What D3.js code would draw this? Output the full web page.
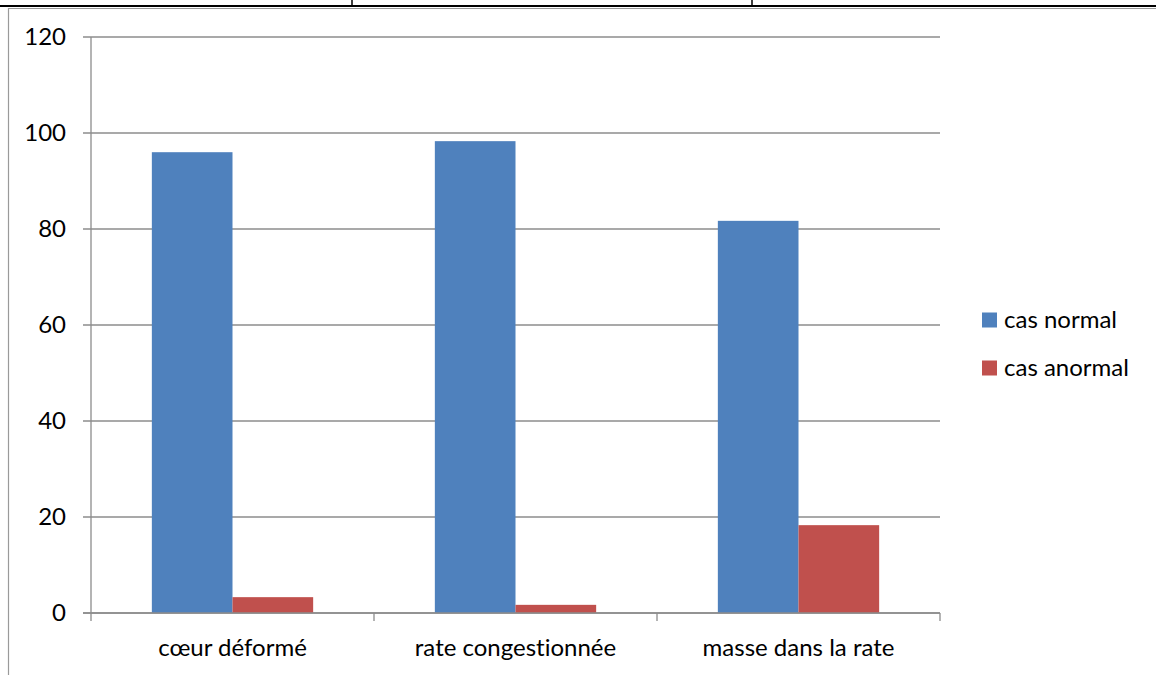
<!DOCTYPE html>
<html>
<head>
<meta charset="utf-8">
<script src="https://cdn.jsdelivr.net/npm/d3@7"></script>
<style>
  body { margin: 0; background: #fff; }
  svg { display: block; }
  text { font-family: Lato, "Open Sans", sans-serif; fill: #000; font-variant-ligatures: none; }
</style>
</head>
<body>
<div id="chart"></div>
<script>
const categories = ["cœur déformé", "rate congestionnée", "masse dans la rate"];
const seriesNames = ["cas normal", "cas anormal"];
const casNormal = [96, 98.3, 81.7];
const casAnormal = [3.3, 1.7, 18.3];
const yTicks = [0, 20, 40, 60, 80, 100, 120];
const colors = ["#4F81BD", "#C0504D"];

const W = 1156, H = 675;
const plot = { left: 91, right: 940, top: 37, bottom: 613 };
const fontSize = "24px";

const svg = d3.select("#chart")
    .append("svg")
    .attr("width", W)
    .attr("height", H);

// bords du tableau Word autour du graphique
svg.append("line").attr("x1", 0).attr("x2", W).attr("y1", 6).attr("y2", 6)
    .attr("stroke", "#000").attr("stroke-width", 2);
[352, 752].forEach(x => {
    svg.append("line").attr("x1", x).attr("x2", x).attr("y1", 0).attr("y2", 6)
        .attr("stroke", "#000").attr("stroke-width", 1.5);
});
// cadre du graphique
svg.append("line").attr("x1", 8).attr("x2", W).attr("y1", 8.5).attr("y2", 8.5)
    .attr("stroke", "#9a9a9a").attr("stroke-width", 1.2);
svg.append("line").attr("x1", 8.5).attr("x2", 8.5).attr("y1", 8).attr("y2", H)
    .attr("stroke", "#9a9a9a").attr("stroke-width", 1.2);

const data = categories.map((c, i) => ({ cat: c, values: [casNormal[i], casAnormal[i]] }));

const x0 = d3.scaleBand()
    .domain(categories)
    .range([plot.left, plot.right])
    .paddingInner(0.43)
    .paddingOuter(0.215);

const x1 = d3.scaleBand()
    .domain(seriesNames)
    .range([0, x0.bandwidth()]);

const y = d3.scaleLinear()
    .domain([0, 120])
    .range([plot.bottom, plot.top]);

// grille horizontale
svg.append("g")
    .selectAll("line")
    .data(yTicks)
    .enter()
    .append("line")
    .attr("x1", plot.left - 8)
    .attr("x2", plot.right)
    .attr("y1", d => y(d))
    .attr("y2", d => y(d))
    .attr("stroke", "#8c8c8c")
    .attr("stroke-width", 1.3);

// axe vertical
svg.append("line")
    .attr("x1", plot.left).attr("x2", plot.left)
    .attr("y1", plot.top).attr("y2", plot.bottom)
    .attr("stroke", "#8c8c8c").attr("stroke-width", 1.3);

svg.append("g")
    .selectAll("text")
    .data(yTicks)
    .enter()
    .append("text")
    .attr("x", 66)
    .attr("y", d => y(d))
    .attr("dy", "0.35em")
    .attr("text-anchor", "end")
    .style("font-size", fontSize)
    .text(d => d);

// barres
const groups = svg.selectAll(".grp")
    .data(data)
    .enter()
    .append("g")
    .attr("class", "grp")
    .attr("transform", d => `translate(${x0(d.cat)},0)`);

groups.selectAll("rect")
    .data(d => d.values.map((v, i) => ({ key: seriesNames[i], v: v, i: i })))
    .enter()
    .append("rect")
    .attr("x", d => x1(d.key))
    .attr("y", d => y(d.v))
    .attr("width", x1.bandwidth())
    .attr("height", d => y(0) - y(d.v))
    .attr("fill", d => colors[d.i]);

// axe horizontal
const step = (plot.right - plot.left) / categories.length;
const xTickPos = d3.range(categories.length + 1).map(i => plot.left + i * step);
svg.append("line")
    .attr("x1", plot.left - 8).attr("x2", plot.right)
    .attr("y1", plot.bottom).attr("y2", plot.bottom)
    .attr("stroke", "#8c8c8c").attr("stroke-width", 1.3);
svg.append("g")
    .selectAll("line")
    .data(xTickPos)
    .enter()
    .append("line")
    .attr("x1", d => d).attr("x2", d => d)
    .attr("y1", plot.bottom).attr("y2", plot.bottom + 8)
    .attr("stroke", "#8c8c8c").attr("stroke-width", 1.3);

svg.append("g")
    .selectAll("text")
    .data(categories)
    .enter()
    .append("text")
    .attr("x", d => x0(d) + x0.bandwidth() / 2)
    .attr("y", 648)
    .attr("dy", "0.35em")
    .attr("text-anchor", "middle")
    .style("font-size", fontSize)
    .text(d => d);

// légende
const legend = svg.append("g")
    .selectAll("g")
    .data(seriesNames)
    .enter()
    .append("g")
    .attr("transform", (d, i) => `translate(982,${320 + i * 48})`);

legend.append("rect")
    .attr("x", 0).attr("y", -7.5)
    .attr("width", 15).attr("height", 15)
    .attr("fill", (d, i) => colors[i]);

legend.append("text")
    .attr("x", 22)
    .attr("y", 0)
    .attr("dy", "0.35em")
    .style("font-size", fontSize)
    .text(d => d);
</script>
</body>
</html>
